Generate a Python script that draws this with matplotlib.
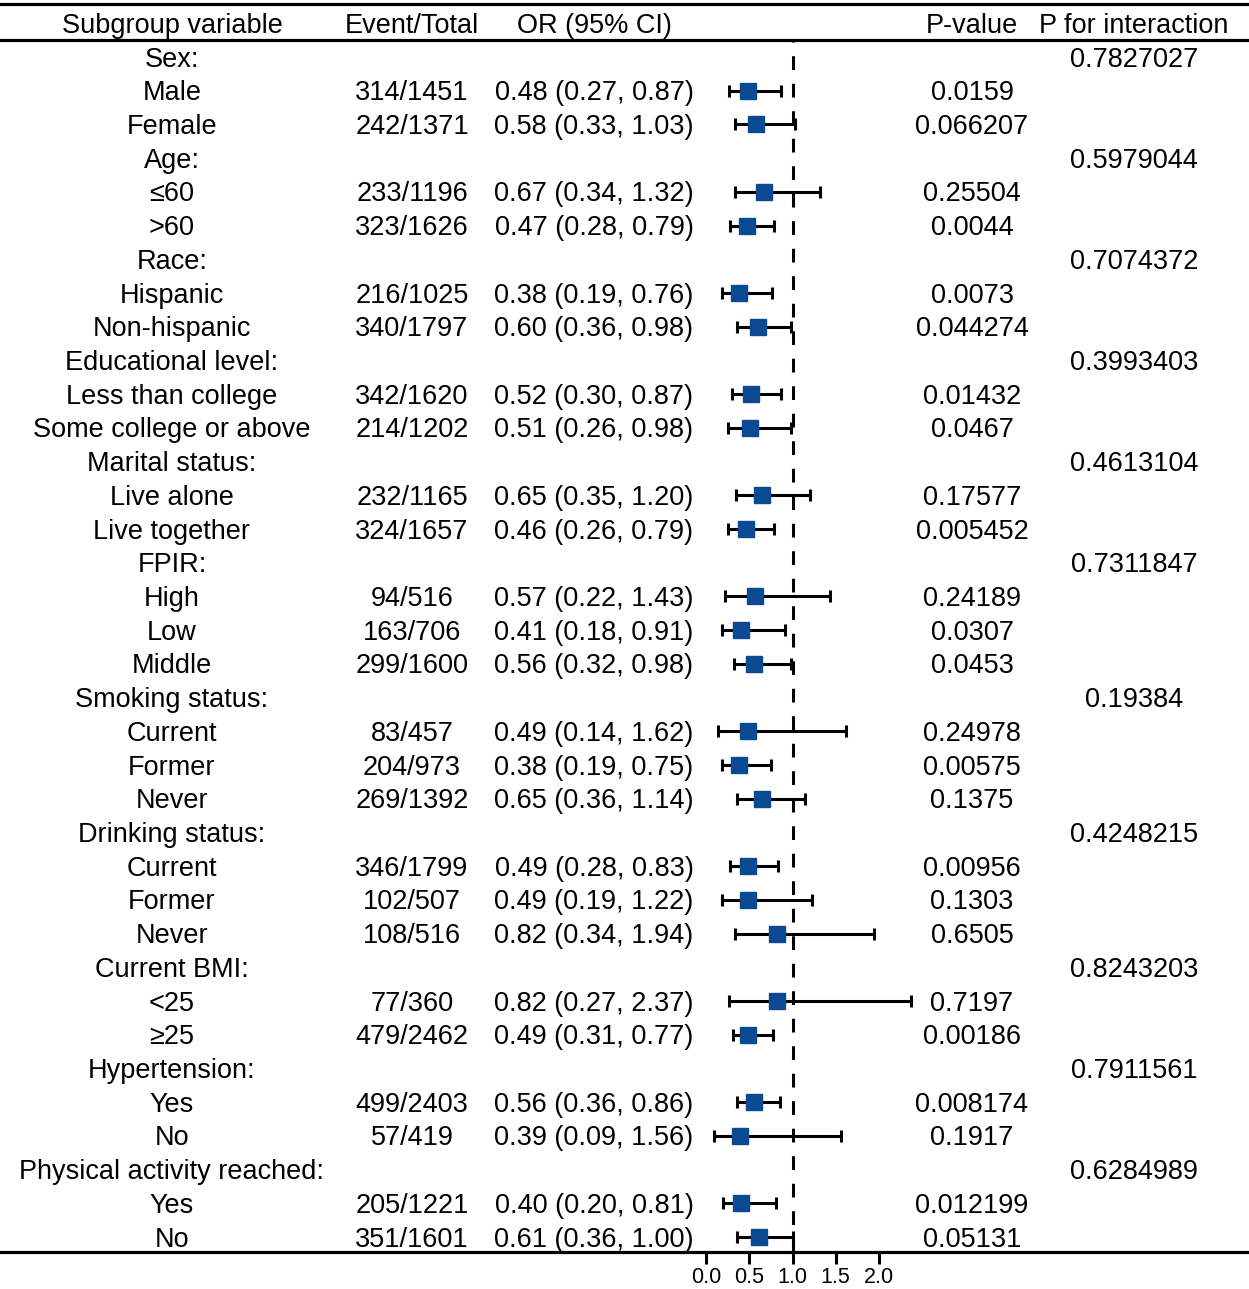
import numpy as np
import matplotlib
matplotlib.use("Agg")
import matplotlib.pyplot as plt

plt.rcParams['font.family'] = ['Liberation Sans', 'DejaVu Sans']

# rows of the table: label, event/total, OR, lower, upper, p-value, p for interaction
labels = ["Sex:", "Male", "Female",
          "Age:", "≤60", ">60",
          "Race:", "Hispanic", "Non-hispanic",
          "Educational level:", "Less than college", "Some college or above",
          "Marital status:", "Live alone", "Live together",
          "FPIR:", "High", "Low", "Middle",
          "Smoking status:", "Current", "Former", "Never",
          "Drinking status:", "Current", "Former", "Never",
          "Current BMI:", "<25", "≥25",
          "Hypertension:", "Yes", "No",
          "Physical activity reached:", "Yes", "No"]
events = ["", "314/1451", "242/1371",
          "", "233/1196", "323/1626",
          "", "216/1025", "340/1797",
          "", "342/1620", "214/1202",
          "", "232/1165", "324/1657",
          "", "94/516", "163/706", "299/1600",
          "", "83/457", "204/973", "269/1392",
          "", "346/1799", "102/507", "108/516",
          "", "77/360", "479/2462",
          "", "499/2403", "57/419",
          "", "205/1221", "351/1601"]
nan = np.nan
odds = [nan, 0.48, 0.58, nan, 0.67, 0.47, nan, 0.38, 0.60, nan, 0.52, 0.51,
        nan, 0.65, 0.46, nan, 0.57, 0.41, 0.56, nan, 0.49, 0.38, 0.65,
        nan, 0.49, 0.49, 0.82, nan, 0.82, 0.49, nan, 0.56, 0.39, nan, 0.40, 0.61]
lower = [nan, 0.27, 0.33, nan, 0.34, 0.28, nan, 0.19, 0.36, nan, 0.30, 0.26,
         nan, 0.35, 0.26, nan, 0.22, 0.18, 0.32, nan, 0.14, 0.19, 0.36,
         nan, 0.28, 0.19, 0.34, nan, 0.27, 0.31, nan, 0.36, 0.09, nan, 0.20, 0.36]
upper = [nan, 0.87, 1.03, nan, 1.32, 0.79, nan, 0.76, 0.98, nan, 0.87, 0.98,
         nan, 1.20, 0.79, nan, 1.43, 0.91, 0.98, nan, 1.62, 0.75, 1.14,
         nan, 0.83, 1.22, 1.94, nan, 2.37, 0.77, nan, 0.86, 1.56, nan, 0.81, 1.00]
pvals = ["", "0.0159", "0.066207", "", "0.25504", "0.0044", "", "0.0073", "0.044274",
         "", "0.01432", "0.0467", "", "0.17577", "0.005452",
         "", "0.24189", "0.0307", "0.0453", "", "0.24978", "0.00575", "0.1375",
         "", "0.00956", "0.1303", "0.6505", "", "0.7197", "0.00186",
         "", "0.008174", "0.1917", "", "0.012199", "0.05131"]
pint = ["0.7827027", "", "", "0.5979044", "", "", "0.7074372", "", "",
        "0.3993403", "", "", "0.4613104", "", "", "0.7311847", "", "", "",
        "0.19384", "", "", "", "0.4248215", "", "", "", "0.8243203", "", "",
        "0.7911561", "", "", "0.6284989", "", ""]
headers = ["Subgroup variable", "Event/Total", "OR (95% CI)", "P-value", "P for interaction"]
xticks = [0.0, 0.5, 1.0, 1.5, 2.0]

W, H = 1249, 1289
fig = plt.figure(figsize=(W / 100, H / 100), dpi=100)

row0, step = 57, 33.714
def row_of(px):
    return (px - row0) / step

# full-figure axes for text and rules
ax = fig.add_axes([0, 0, 1, 1])
ax.set_xlim(0, 1)
ax.set_ylim(row_of(H), row_of(0))
ax.axis("off")

fs = 19.5
dy = 0.075  # small nudge so text sits on the row centre
col_x = [172 / W, 412 / W, 594 / W, 972 / W, 1134 / W]
for cx, h in zip(col_x, headers):
    ax.text(cx, -1 + dy, h, ha="center", va="center", fontsize=fs)

n = len(labels)
rows = np.arange(n)
for i in range(n):
    y = i + dy
    ax.text(col_x[0], y, labels[i], ha="center", va="center", fontsize=fs)
    ax.text(col_x[1], y, events[i], ha="center", va="center", fontsize=fs)
    if not np.isnan(odds[i]):
        ax.text(col_x[2], y, f"{odds[i]:.2f} ({lower[i]:.2f}, {upper[i]:.2f})",
                ha="center", va="center", fontsize=fs)
    ax.text(col_x[3], y, pvals[i], ha="center", va="center", fontsize=fs)
    ax.text(col_x[4], y, pint[i], ha="center", va="center", fontsize=fs)

for ypx in [4, 40, 1252]:
    ax.axhline(row_of(ypx), color="black", lw=2.3)

# forest panel
top_px, bot_px = 40, 1252
axf = fig.add_axes([706 / W, 1 - bot_px / H, 173 / W, (bot_px - top_px) / H])
axf.set_xlim(0, 2)
axf.set_ylim(row_of(bot_px), row_of(top_px))
axf.patch.set_alpha(0)
for s in axf.spines.values():
    s.set_visible(False)
axf.set_yticks([])
axf.set_xticks(xticks)
axf.set_xticklabels([f"{t:.1f}" for t in xticks])
axf.tick_params(axis="x", direction="out", length=8.5, width=2.2, pad=2, labelsize=15.5)

axf.axvline(1.0, color="black", lw=2.2, ls=(0, (4.5, 4.5)), clip_on=False)

odds_a = np.array(odds)
lo_a = np.array(lower)
hi_a = np.array(upper)
m = ~np.isnan(odds_a)
axf.errorbar(odds_a[m], rows[m], xerr=[odds_a[m] - lo_a[m], hi_a[m] - odds_a[m]],
             fmt="none", ecolor="black", elinewidth=2.2, capsize=4, capthick=2.2,
             clip_on=False)
axf.plot(odds_a[m], rows[m], "s", color="#0B4A93", markersize=11, clip_on=False, zorder=5)

fig.savefig("out.png", dpi=100)
